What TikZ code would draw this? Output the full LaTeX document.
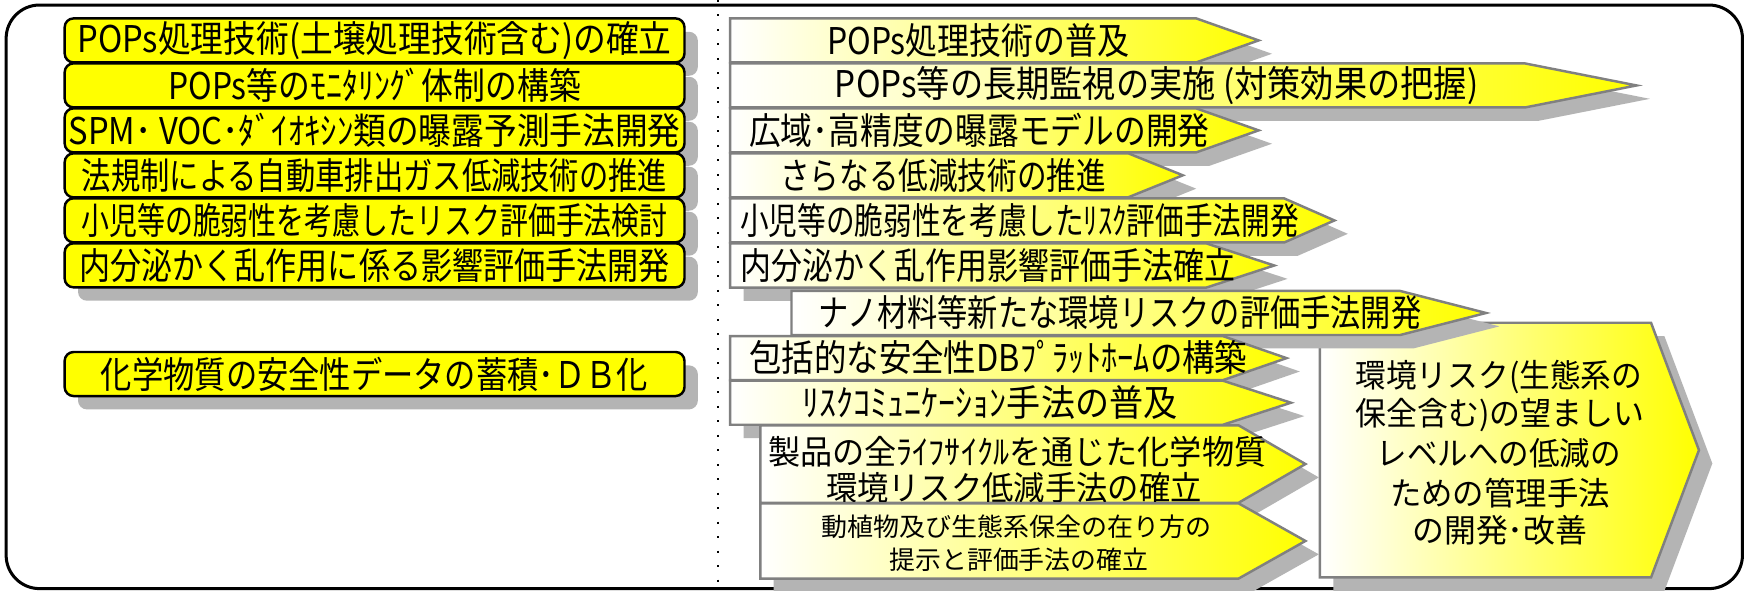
\documentclass[tikz,border=0pt]{standalone}
\usepackage{fontspec}
\usepackage{graphicx}
\newfontfamily\jp{Noto Sans CJK JP}
\usetikzlibrary{shadows}
\newlength{\pxu}\setlength{\pxu}{0.5pt}
\newcommand{\fitw}[2]{\resizebox{#1\pxu}{\height}{#2}}
\definecolor{shadowgray}{HTML}{B4B4B4}
\definecolor{arrowgray}{HTML}{808080}
\definecolor{yel}{HTML}{FFFF00}
\tikzset{
  frame/.style={draw=black, line width=1.35pt, rounded corners=15pt},
  dotline/.style={draw=black, line width=0.9pt, dash pattern=on 0.9pt off 5.6pt},
  lbox/.style={draw=black, line width=1.1pt, fill=yel, rounded corners=4pt,
    minimum width=278pt, minimum height=19.75pt, inner sep=0pt,
    font=\jp\fontsize{16.5}{19}\selectfont,
    drop shadow={shadow xshift=6pt, shadow yshift=-6pt, fill=shadowgray, opacity=1}},
  arr/.style={draw=arrowgray, line width=1.1pt, left color=white, right color=yel},
  shd/.style={fill=shadowgray, draw=none},
  txt/.style={inner sep=0pt, font=\jp\fontsize{16.5}{19}\selectfont},
  txtm/.style={inner sep=0pt, font=\jp\fontsize{15}{17}\selectfont},
  txtb/.style={inner sep=0pt, font=\jp\fontsize{14.5}{17}\selectfont},
  txts/.style={inner sep=0pt, font=\jp\fontsize{11.5}{13}\selectfont},
}
% left, top, bottom, body end, tip
\newcommand{\myarr}[5]{%
  \fill[shd, shift={(12,12)}] (#1,#2) -- (#4,#2) -- (#5,{(#2+#3)/2}) -- (#4,#3) -- (#1,#3) -- cycle;
  \path[arr] (#1,#2) -- (#4,#2) -- (#5,{(#2+#3)/2}) -- (#4,#3) -- (#1,#3) -- cycle;
}
\begin{document}
\begin{tikzpicture}[x=0.5pt,y=-0.5pt]
\useasboundingbox (0,0) rectangle (1568,530);
\fill[white] (0,0) rectangle (1568,530);
\draw[frame] (5.5,4.5) rectangle (1563,528);
\coordinate (dtop) at (644.5,0);
\coordinate (dbot) at (644.5,530);
\draw[dotline] (dtop) -- (dbot);

% left column
\node[lbox] (l1) at (336,36.25) {\fitw{533}{POPs処理技術(土壌処理技術含む)の確立}};
\node[lbox] (l2) at (336,76.6) {\fitw{370}{POPs等のﾓﾆﾀﾘﾝｸﾞ体制の構築}};
\node[lbox] (l3) at (336,116.95) {\fitw{549}{SPM･ VOC･ﾀﾞｲｵｷｼﾝ類の曝露予測手法開発}};
\node[lbox] (l4) at (336,157.3) {\fitw{525}{法規制による自動車排出ガス低減技術の推進}};
\node[lbox] (l5) at (336,197.65) {\fitw{526}{小児等の脆弱性を考慮したリスク評価手法検討}};
\node[lbox] (l6) at (336,238) {\fitw{530}{内分泌かく乱作用に係る影響評価手法開発}};
\node[lbox] (l7) at (336,335.5) {\fitw{491}{化学物質の安全性データの蓄積･ＤＢ化}};

% right column
\myarr{655}{16.5}{56}{1073}{1129}
\node[txt] (a1) at (877.5,36) {\fitw{271}{POPs処理技術の普及}};
\myarr{655}{56.9}{96.4}{1368}{1468}
\node[txt] (a2) at (1037.5,76.6) {\fitw{577}{POPs等の長期監視の実施 (対策効果の把握)}};
\myarr{655}{97.2}{136.7}{1073}{1129}
\node[txt] (a3) at (878.5,117) {\fitw{413}{広域･高精度の曝露モデルの開発}};
\myarr{655}{137.5}{177}{1012}{1061}
\node[txt] (a4) at (846,157.3) {\fitw{292}{さらなる低減技術の推進}};
\myarr{655}{178}{217.5}{1152}{1197}
\node[txt] (a5) at (914.5,197.7) {\fitw{501}{小児等の脆弱性を考慮したﾘｽｸ評価手法開発}};
\myarr{655}{218.3}{258}{1082}{1143}
\node[txt] (a6) at (886,238) {\fitw{444}{内分泌かく乱作用影響評価手法確立}};

% big arrow
\myarr{1184}{289.5}{518}{1481}{1524}
\node[txtb] (b1) at (1344.5,338) {\fitw{257}{環境リスク(生態系の}};
\node[txtb] (b2) at (1345.5,372) {\fitw{259}{保全含む)の望ましい}};
\node[txtb] (b3) at (1344.5,407) {\fitw{219}{レベルへの低減の}};
\node[txtb] (b4) at (1345.5,442) {\fitw{197}{ための管理手法}};
\node[txtb] (b5) at (1345.5,475.5) {\fitw{157}{の開発･改善}};

\myarr{710}{261}{300.5}{1256}{1333}
\node[txt] (a7) at (1004.5,280.7) {\fitw{541}{ナノ材料等新たな環境リスクの評価手法開発}};
\myarr{655}{301.5}{341}{1097}{1154}
\node[txt] (a8) at (895.5,321) {\fitw{447}{包括的な安全性DBﾌﾟﾗｯﾄﾎｰﾑの構築}};
\myarr{655}{341.5}{381}{1097}{1158}
\node[txt] (a9) at (888,361) {\fitw{336}{ﾘｽｸｺﾐｭﾆｹｰｼｮﾝ手法の普及}};
\myarr{682}{381.5}{451}{1111}{1171}
\node[txtm] (a10a) at (912.5,405) {\fitw{447}{製品の全ﾗｲﾌｻｲｸﾙを通じた化学物質}};
\node[txtm] (a10b) at (909.5,438) {\fitw{337}{環境リスク低減手法の確立}};
\myarr{682}{451.5}{519}{1111}{1171}
\node[txts] (a11a) at (912,472.5) {\fitw{350}{動植物及び生態系保全の在り方の}};
\node[txts] (a11b) at (914,502) {\fitw{232}{提示と評価手法の確立}};
\end{tikzpicture}
\end{document}
